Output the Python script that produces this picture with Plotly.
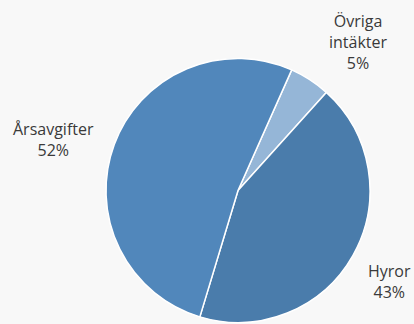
import plotly.graph_objects as go

labels = ["Övriga intäkter", "Hyror", "Årsavgifter"]
values = [5, 43, 52]
label_texts = ["Övriga<br>intäkter<br>5%", "Hyror<br>43%", "Årsavgifter<br>52%"]
colors = ["#95b6d7", "#4a7cab", "#5187bb"]

fig = go.Figure()
fig.add_trace(go.Pie(
    labels=labels, values=values, sort=False, direction="clockwise",
    rotation=24, textinfo="none", hoverinfo="label+percent",
    marker=dict(colors=colors, line=dict(color="white", width=1.5)),
    domain=dict(x=[106/414, 370/414], y=[1-323/324, 1-58/324]),
    showlegend=False,
))

pos = [(358, 42), (389, 281), (53, 140)]
for t, (x, y) in zip(label_texts, pos):
    fig.add_annotation(x=x/414, y=1-y/324, xref="paper", yref="paper", text=t,
                       showarrow=False, xanchor="center", yanchor="middle",
                       font=dict(family="Open Sans, sans-serif", size=16, color="#3a3a3a"))

fig.update_layout(width=414, height=324, margin=dict(l=0, r=0, t=0, b=0),
                  paper_bgcolor="#f8f8f8", plot_bgcolor="#f8f8f8")
fig.write_html("out.html")
